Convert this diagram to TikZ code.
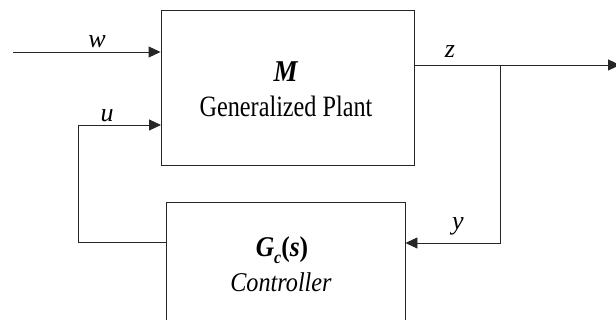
\documentclass[tikz,border=0pt]{standalone}
\usepackage{fontspec}
\setmainfont{Liberation Serif}
\usetikzlibrary{arrows.meta}
\begin{document}
\begin{tikzpicture}[x=1pt,y=1pt,
  blk/.style={draw=black!85, line width=0.9pt, inner sep=0pt},
  wire/.style={draw=black!85, line width=0.9pt},
  arr/.style={wire, -{Triangle[length=12pt,width=11pt]}},
  lbl/.style={anchor=base, inner sep=0pt, font=\fontsize{24.2}{28}\selectfont},
  sig/.style={anchor=base, inner sep=0pt, font=\fontsize{26}{30}\selectfont}]
\useasboundingbox (0,0) rectangle (616,320);
\clip (0,0) rectangle (616,320);
% blocks
\node[blk, minimum width=253pt, minimum height=155pt] (plant) at (287.5,232.5) {};
\node[blk, minimum width=239pt, minimum height=140pt] (ctrl) at (285.5,48) {};
% texts
\node[lbl] (mlab) at (286,238) {\scalebox{1}[1.12]{\fontsize{27}{30}\selectfont\textbf{\textit{M}}}};
\node[lbl] (gplab) at (286,203) {\scalebox{1}[1.22]{Generalized Plant}};
\node[lbl] (gclab) at (282,63) {\scalebox{1}[1.12]{\fontsize{25.5}{30}\selectfont\textbf{\textit{G}}\raisebox{-0.22em}{\fontsize{16}{18}\selectfont\textbf{\textit{c}}}\textbf{(}\textbf{\textit{s}}\textbf{)}}};
\node[lbl] (clab) at (281,28) {\scalebox{1}[1.12]{\textit{Controller}}};
% coordinates
\coordinate (win) at (13,268);
\coordinate (wend) at (plant.west |- win);
\coordinate (uend) at (161,195);
\coordinate (lb) at (78,78);
\coordinate (lt) at (78,195);
\coordinate (cw) at (ctrl.west |- lb);
\coordinate (zs) at (plant.east |- 0,255);
\coordinate (br) at (500,255);
\coordinate (bb) at (500,77);
\coordinate (ce) at (ctrl.east |- bb);
\coordinate (zend) at (620,255);
% wires
\draw[arr] (win) -- (wend);
\draw[arr] (cw) -- (lb) -- (lt) -- (uend);
\draw[arr] (zs) -- (zend);
\draw[arr] (br) -- (bb) -- (ce);
% signal labels
\node[sig] (wl) at (97,272) {\textit{w}};
\node[sig] (ul) at (107,198) {\textit{u}};
\node[sig] (zl) at (450,262) {\textit{z}};
\node[sig] (yl) at (458,90) {\textit{y}};
\end{tikzpicture}
\end{document}
